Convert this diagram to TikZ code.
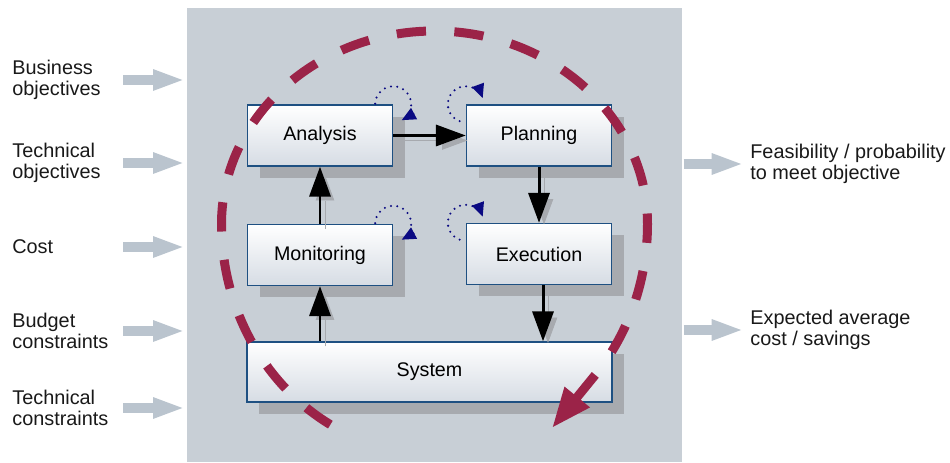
\documentclass[tikz,border=0pt]{standalone}
\usepackage{fontspec}
\setmainfont{Liberation Sans}
\usetikzlibrary{arrows.meta}
\usetikzlibrary{shadows}
\definecolor{panelgray}{RGB}{200,207,214}
\definecolor{arrowgray}{RGB}{186,196,206}
\definecolor{boxblue}{RGB}{30,80,130}
\definecolor{boxbottom}{RGB}{214,220,228}
\definecolor{shadegray}{RGB}{167,170,175}
\definecolor{loopnavy}{RGB}{10,10,130}
\definecolor{cyclered}{RGB}{155,35,72}
\tikzset{
 phasebox/.style={draw=boxblue, line width=0.8pt, top color=white, bottom color=boxbottom,
  minimum width=2.9cm, minimum height=1.22cm, font=\fontsize{11.2}{13}\selectfont,
  drop shadow={shadow xshift=0.24cm, shadow yshift=-0.24cm, fill=shadegray, opacity=1}},
 flow/.style={line width=1.7pt, -{Triangle[length=17pt,width=12pt]},
  preaction={draw=shadegray, transform canvas={shift={(0.1,-0.1)}}}},
 selfloop/.style={loopnavy, line width=1.3pt, line cap=round, dash pattern=on 0pt off 3.6pt,
  -{Triangle[length=8pt,width=7pt]}},
 inflow/.style={arrowgray, line width=0.2cm, -{Triangle[length=0.64cm,width=0.38cm]}},
 sidelabel/.style={anchor=west, align=left, inner sep=0pt, text=black!90, font=\fontsize{11.3}{12}\selectfont},
 cyclearc/.style={cyclered, line width=0.18cm, dash pattern=on 0.587cm off 0.568cm, dash phase=0.587cm},
 cyclehead/.style={cyclered, line width=0.18cm, -{Triangle[length=0.8cm,width=0.6cm]}}
}
\begin{document}
\begin{tikzpicture}
\useasboundingbox (0,0) rectangle (19,9.24);
\node[fill=panelgray, minimum width=9.9cm, minimum height=9.08cm, anchor=south west, inner sep=0pt] (panel) at (3.74,0) {};

\node[phasebox] (ana) at (6.4,6.53) {Analysis};
\node[phasebox] (pla) at (10.78,6.53) {Planning};
\node[phasebox] (mon) at (6.4,4.14) {Monitoring};
\node[phasebox] (exe) at (10.78,4.16) {Execution};
\node[phasebox, minimum width=7.3cm, minimum height=1.2cm] (sys) at (8.59,1.8) {System};

\draw[flow] (ana) -- (pla);
\draw[flow] (pla) -- (exe);
\draw[flow] ([xshift=0.08cm]exe.south) -- ([xshift=0.08cm]exe.south |- sys.north);
\draw[flow] (mon.south |- sys.north) -- (mon.south);
\draw[flow] (mon) -- (ana);

\foreach \stage in {ana,mon}
 \draw[selfloop] ([shift={(178:0.36)}]\stage.north east) arc[start angle=178, end angle=-62, radius=0.36cm];
\foreach \stage in {pla,exe}
 \draw[selfloop] ([shift={(250:0.36)}]\stage.north west) arc[start angle=250, end angle=20, radius=0.36cm];

% cycle, drawn back from the arrow
\coordinate (hub) at (8.69,4.76);
\coordinate (turn) at ([shift={(-41:4.26 and 4.6)}]hub);
\coordinate (tip) at (11.04,0.68);
\draw[cyclearc] (turn) arc[start angle=-41, end angle=0, x radius=4.26cm, y radius=4.6cm]
 arc[start angle=0, end angle=180, x radius=4.26cm, y radius=3.86cm]
 arc[start angle=180, end angle=241, x radius=4.26cm, y radius=4.6cm];
\draw[cyclehead] (turn) -- (tip);

\node[sidelabel] (bus) at (0.24,7.64) {Business\\objectives};
\node[sidelabel] (tob) at (0.24,5.98) {Technical\\objectives};
\node[sidelabel] (cst) at (0.24,4.30) {Cost};
\node[sidelabel] (bud) at (0.24,2.62) {Budget\\constraints};
\node[sidelabel] (tcs) at (0.24,1.08) {Technical\\constraints};
\foreach \lbl in {bus,tob,cst,bud,tcs}
 \draw[inflow] ([xshift=-1.28cm]panel.west |- \lbl.west) -- ([xshift=-0.04cm]panel.west |- \lbl.west);

\node[sidelabel] (fea) at (15.0,5.96) {Feasibility / probability\\to meet objective};
\node[sidelabel] (sav) at (15.0,2.64) {Expected average\\cost / savings};
\foreach \lbl in {fea,sav}
 \draw[inflow] ([xshift=0.02cm]panel.east |- \lbl.west) -- ([xshift=1.22cm]panel.east |- \lbl.west);
\end{tikzpicture}
\end{document}
